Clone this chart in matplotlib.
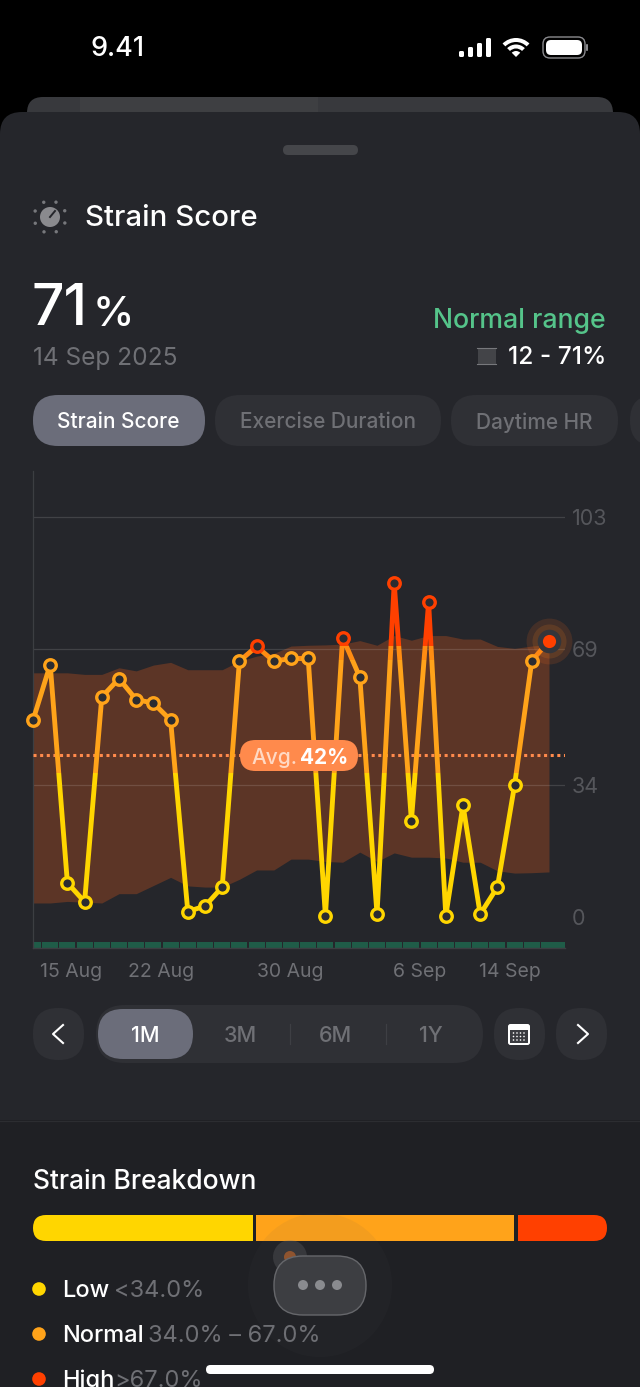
import numpy as np
import matplotlib
matplotlib.use('Agg')
import matplotlib.pyplot as plt
from matplotlib.patches import FancyBboxPatch, Rectangle, Circle, Wedge

plt.rcParams['font.family'] = ['Inter', 'DejaVu Sans']

# data
strain = [50.6, 64.9, 8.7, 3.8, 56.6, 61.3, 55.9, 55.0, 50.6, 1.3, 2.7, 7.6, 65.8, 69.6, 65.8, 66.5,
          66.5, 0.2, 71.9, 61.7, 0.6, 85.9, 24.7, 81.0, 0.2, 28.7, 0.6, 7.6, 33.9, 65.9, 71.0]
range_high = [62.8, 62.8, 62.8, 62.4, 62.4, 64.1, 63.3, 64.8, 65.5, 63.6, 63.6, 63.6, 65.8, 67.1, 67.8, 69.7,
              69.9, 70.0, 70.2, 71.1, 69.9, 72.4, 71.2, 72.4, 72.4, 71.5, 71.5, 69.6, 69.1, 69.7, 70.1]
range_low = [3.5, 3.5, 3.9, 3.7, 3.5, 5.9, 5.9, 8.0, 10.1, 7.9, 7.6, 7.6, 9.6, 12.0, 12.0, 14.8,
             14.8, 14.2, 14.0, 16.6, 14.2, 16.4, 15.3, 15.3, 15.1, 14.0, 14.0, 11.8, 11.2, 11.3, 11.5]
avg_value = 41.6
y_ticks = [0, 34, 69, 103]
date_labels = ['15 Aug', '22 Aug', '30 Aug', '6 Sep', '14 Sep']
date_pos = [2.2, 7.45, 14.95, 22.45, 27.75]
breakdown_share = [38.8, 45.5, 15.7]
breakdown_names = ['Low', 'Normal', 'High']
breakdown_ranges = ['<34.0%', '34.0% – 67.0%', '>67.0%']

YELLOW = '#ffd600'
ORANGE = '#ffa31a'
MID = '#ff8c12'
RED = '#ff4000'
CARD = '#25262b'
LOWER = '#1f2024'
CHIP = '#2f3035'
ACTIVE = '#6b6d7a'
GREY = '#6f7075'

fig = plt.figure(figsize=(6.4, 13.87), dpi=100, facecolor='black')


def px_axes(z):
    a = fig.add_axes([0, 0, 1, 1], zorder=z)
    a.set_xlim(0, 640)
    a.set_ylim(1387, 0)
    a.axis('off')
    a.patch.set_alpha(0)
    return a


def pill(a, x0, y0, x1, y1, color, r, **kw):
    p = FancyBboxPatch((x0, y0), x1 - x0, y1 - y0, boxstyle='round,pad=0,rounding_size=%s' % r,
                       fc=color, ec=kw.pop('ec', 'none'), **kw)
    a.add_patch(p)
    return p


bg = px_axes(0)
fg = px_axes(2)

# background cards
pill(bg, 27, 97, 613, 140, '#38393d', 16)
bg.add_patch(Rectangle((80, 97), 238, 20, fc='#3e3f42', ec='none'))
pill(bg, 0, 112, 640, 1300, CARD, 22)
bg.add_patch(Rectangle((0, 1120), 640, 267, fc=LOWER, ec='none'))
bg.plot([0, 640], [1120.5, 1120.5], color='#2c2d31', lw=0.9)
pill(bg, 283, 145, 358, 155, '#45464a', 5)

# status bar
bg.text(90, 49.5, '9.41', color='white', fontsize=19.5, va='center', weight='medium')
for i, h in enumerate([6, 10, 14, 19]):
    pill(bg, 459 + i * 9, 57 - h, 464 + i * 9, 57, 'white', 1.5)
bg.add_patch(Wedge((516, 57), 19, 225, 315, width=4, fc='white', ec='none'))
bg.add_patch(Wedge((516, 57), 12.5, 225, 315, width=4, fc='white', ec='none'))
bg.add_patch(Wedge((516, 57), 6, 225, 315, fc='white', ec='none'))
pill(bg, 543, 37, 585, 58, 'black', 7, ec='#8a8a8e', lw=1)
pill(bg, 546, 40, 582, 55, 'white', 5)
pill(bg, 586, 44, 588, 51, '#8a8a8e', 1)

# header
for ang in np.arange(0, 360, 45):
    bg.add_patch(Circle((50 + 16 * np.cos(np.radians(ang + 22)), 217 + 16 * np.sin(np.radians(ang + 22))), 1.7,
                        fc='#77787c', ec='none'))
bg.add_patch(Circle((50, 217), 10, fc='#8a8a8e', ec='none'))
bg.plot([50, 55], [217, 211], color=CARD, lw=1.4)
bg.text(85, 218, 'Strain Score', color='white', fontsize=21.2, va='center', weight='medium')
bg.text(32, 325, '71', color='white', fontsize=41, va='baseline', weight='medium')
bg.text(93, 326, '%', color='white', fontsize=30, va='baseline', weight='medium')
bg.text(33, 358, '14 Sep 2025', color=GREY, fontsize=17.6, va='center')
bg.text(606, 321, 'Normal range', color='#55c48a', fontsize=19.2, va='center', ha='right', weight='medium')
bg.text(606, 358, '12 - 71%', color='white', fontsize=17.6, va='center', ha='right', weight='medium')
bg.add_patch(Rectangle((478, 348), 18, 16, fc='#434448', ec='none'))
bg.plot([477, 496], [348, 348], color='#77787c', lw=0.8)
bg.plot([477, 496], [364, 364], color='#77787c', lw=0.8)

# metric chips
pill(bg, 33, 395, 205, 446, ACTIVE, 25)
pill(bg, 215, 395, 441, 446, CHIP, 25)
pill(bg, 451, 395, 618, 446, CHIP, 25)
pill(bg, 630, 395, 680, 446, CHIP, 25)
bg.text(118.5, 422.5, 'Strain Score', color='white', fontsize=15, ha='center', va='center', weight='medium')
bg.text(327.5, 422.5, 'Exercise Duration', color=GREY, fontsize=15, ha='center', va='center', weight='medium')
bg.text(534.5, 422.5, 'Daytime HR', color=GREY, fontsize=15, ha='center', va='center', weight='medium')

# main chart, axes limits line up with the pixel layout
ax = fig.add_axes([33 / 640, 1 - 948 / 1387, (565 - 33) / 640, (948 - 471) / 1387], zorder=1)
ax.patch.set_alpha(0)
ax.set_xlim(0, 30.93)
ax.set_ylim(-8.1, 114.8)
days = np.arange(len(strain))
strain_arr = np.array(strain)

ax.fill_between(days, range_low, range_high, color='#5c3526', lw=0, zorder=1)
ax.hlines(y_ticks[1:], 0, 30.93, color='#ffffff', alpha=0.13, lw=0.9, zorder=2)
ax.bar(days, 1.5, width=0.94, bottom=-8.0, color='#1f5c48', zorder=2)
ax.bar([30.5], 1.5, width=0.94, bottom=-8.0, color='#1f5c48', zorder=2)
ax.axhline(avg_value, color='#ff8a4c', lw=2.2, ls=(0, (1, 1.17)), zorder=3)

# line colour changes at fixed heights
for lo, hi, c in [(-20, 37, YELLOW), (37, 66, ORANGE), (66, 69.7, MID), (69.7, 130, RED)]:
    ln, = ax.plot(days, strain, color=c, lw=3.5, solid_joinstyle='round', zorder=4)
    ln.set_clip_path(Rectangle((-2, lo), 36, hi - lo, transform=ax.transData))

zones = [strain_arr[:-1] < 34, (strain_arr[:-1] >= 34) & (strain_arr[:-1] < 67), strain_arr[:-1] >= 67]
for mask, c in zip(zones, [YELLOW, ORANGE, RED]):
    ax.plot(days[:-1][mask], strain_arr[:-1][mask], ls='none', marker='o', ms=8.3, mew=2.4, mec=c, mfc='#2b2c31',
            zorder=5, clip_on=False)
# latest point
ax.plot(days[-1:], strain[-1:], ls='none', marker='o', ms=33, mfc='#ff6a1a', alpha=0.14, mew=0, zorder=5, clip_on=False)
ax.plot(days[-1:], strain[-1:], ls='none', marker='o', ms=24.5, mfc='#ff8a1a', alpha=0.14, mew=0, zorder=5, clip_on=False)
ax.plot(days[-1:], strain[-1:], ls='none', marker='o', ms=17, mfc='#34353a', mew=0, zorder=6, clip_on=False)
ax.plot(days[-1:], strain[-1:], ls='none', marker='o', ms=9.5, mfc=RED, mew=0, zorder=7, clip_on=False)

for s in ['top', 'right', 'bottom']:
    ax.spines[s].set_visible(False)
ax.spines['left'].set_color('#3c3e42')
ax.spines['left'].set_linewidth(0.9)
ax.plot([0, 30.93], [-8.1, -8.1], color='#3c3e42', lw=1, zorder=3, clip_on=False)
ax.yaxis.tick_right()
ax.set_yticks(y_ticks)
ax.set_yticklabels([str(v) for v in y_ticks], color='#55565b', fontsize=15.5)
ax.set_xticks(date_pos)
ax.set_xticklabels(date_labels, color=GREY, fontsize=14)
ax.tick_params(length=0)
ax.tick_params(axis='y', pad=5)
ax.tick_params(axis='x', pad=11)

# average label sits above the line
pill(fg, 240, 740, 358, 771, '#ff8a4c', 15.5)
fg.text(251, 758, 'Avg.', color='#ffd9c4', fontsize=15, va='center', weight='medium')
fg.text(300, 758, '42%', color='white', fontsize=15, va='center', weight='bold')

# period selector
pill(bg, 33, 1008, 84, 1060, CHIP, 25)
pill(bg, 96, 1005, 483, 1063, CHIP, 29)
pill(bg, 98, 1009, 193, 1059, ACTIVE, 25)
pill(bg, 494, 1008, 545, 1060, CHIP, 25)
pill(bg, 556, 1008, 607, 1060, CHIP, 25)
for x, lab in zip([145, 240, 336, 431], ['1M', '3M', '6M', '1Y']):
    bg.text(x, 1035.5, lab, color='white' if lab == '1M' else GREY, fontsize=15.5, ha='center', va='center',
            weight='medium')
for x in [290, 386]:
    bg.plot([x, x], [1024, 1044], color='#3e3f44', lw=0.9)
bg.plot([63, 53, 63], [1025, 1034, 1043], color='white', lw=1.5)
bg.plot([578, 588, 578], [1025, 1034, 1043], color='white', lw=1.5)
pill(bg, 508, 1024, 530, 1045, 'white', 2.5)
bg.add_patch(Rectangle((510, 1030), 18, 13, fc='#3a3b40', ec='none'))
for yy in [1033, 1036.5, 1040]:
    for xx in [513.5, 517, 520.5, 524]:
        bg.add_patch(Circle((xx, yy), 0.8, fc='white', ec='none'))

# breakdown
bg.text(33, 1182, 'Strain Breakdown', color='white', fontsize=19, va='center', weight='medium')
shares = np.array(breakdown_share) / sum(breakdown_share)
bar_x0, bar_x1, gap = 33, 607, 3.5
usable = bar_x1 - bar_x0 - gap * (len(shares) - 1)
outer = pill(bg, bar_x0, 1215, bar_x1, 1241, 'none', 13)
x = bar_x0
for share, c in zip(shares, [YELLOW, ORANGE, RED]):
    w = share * usable
    seg = Rectangle((x, 1215), w, 26, fc=c, ec='none')
    bg.add_patch(seg)
    seg.set_clip_path(outer)
    x += w + gap

legend_y = [1289, 1334, 1379]
range_x = [115, 149, 115]
for yy, rx, name, rng, c in zip(legend_y, range_x, breakdown_names, breakdown_ranges, [YELLOW, ORANGE, RED]):
    bg.add_patch(Circle((39, yy), 6.8, fc=c, ec='none'))
    bg.text(62, yy + 2, name, color='white', fontsize=17, va='center', weight='medium')
    bg.text(rx - 1, yy + 2, rng, color=GREY, fontsize=17, va='center')

# floating button and home indicator
fg.add_patch(Circle((320, 1285), 72, fc='#55565b', ec='none', alpha=0.07))
fg.add_patch(Circle((290, 1257), 17, fc='#77787c', ec='none', alpha=0.25))
fg.add_patch(Circle((290, 1257), 6, fc='#b5602a', ec='none', alpha=0.7))
pill(fg, 274, 1256, 366, 1315, '#3d3e42', 29, ec='#66676b', lw=1)
for xx in [303, 320, 337]:
    fg.add_patch(Circle((xx, 1285), 5, fc='#8a8b8f', ec='none'))
pill(fg, 206, 1365, 434, 1374, 'white', 4.5)

fig.savefig('out.png', dpi=100, facecolor='black')
